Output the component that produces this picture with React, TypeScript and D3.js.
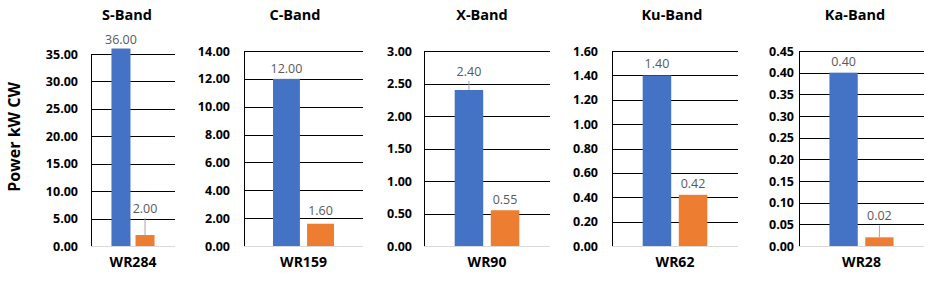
import React from "react";
import * as d3 from "d3";

// one panel per band
const bands = ["S-Band", "C-Band", "X-Band", "Ku-Band", "Ka-Band"];
const waveguides = ["WR284", "WR159", "WR90", "WR62", "WR28"];
const blueValues = [36.0, 12.0, 2.4, 1.4, 0.4];
const orangeValues = [2.0, 1.6, 0.55, 0.42, 0.02];
const axisMax = [35, 14, 3, 1.6, 0.45];
const tickStep = [5, 2, 0.5, 0.2, 0.05];

const W = 940,
  H = 288;
const FONT = "'Open Sans', Lato, sans-serif";

// layout of the five panels (pixel positions)
const plotLeft = [91, 244, 424, 612, 799];
const plotRight = [175, 363, 550, 738, 924];
const plotTop = [54, 51, 51, 51, 51];
const plotBottom = 246;
const tickLabelRight = [78, 230, 412, 598, 794];
const titleX = [127, 295, 482, 672, 855];
// how far data labels sit above their bar: [blue, orange]
const labelLift = [
  [5, 22],
  [6, 9],
  [14, 6],
  [7, 7],
  [7, 17],
];

const colors = ["#4472c4", "#ed7d31"];
const fmt = d3.format(".2f");

function Panel({ i }: { i: number }) {
  const y = d3
    .scaleLinear()
    .domain([0, axisMax[i]])
    .range([plotBottom, plotTop[i]]);
  const x = d3
    .scaleBand()
    .domain(["a", "b"])
    .range([plotLeft[i], plotRight[i]])
    .paddingInner(0.21)
    .paddingOuter(0.85);
  const ticks = d3.range(0, axisMax[i] + tickStep[i] / 2, tickStep[i]);
  const vals = [blueValues[i], orangeValues[i]];
  const cx = (plotLeft[i] + plotRight[i]) / 2;

  return (
    <g>
      <text
        x={titleX[i]}
        y={20}
        textAnchor="middle"
        fontSize={14.5}
        fontWeight="bold"
        fill="#000"
      >
        {bands[i]}
      </text>
      {ticks.map((t) => (
        <g key={t}>
          {t > 0 && (
            <line
              x1={plotLeft[i]}
              x2={plotRight[i]}
              y1={Math.round(y(t)) + 0.5}
              y2={Math.round(y(t)) + 0.5}
              stroke="#000"
              strokeWidth={1}
            />
          )}
          <text
            x={tickLabelRight[i]}
            y={y(t) + 4.5}
            textAnchor="end"
            fontSize={12.5}
            fontWeight="bold"
            fill="#000"
          >
            {fmt(t)}
          </text>
        </g>
      ))}
      <line
        x1={plotLeft[i]}
        x2={plotRight[i]}
        y1={plotBottom + 0.5}
        y2={plotBottom + 0.5}
        stroke="#d9d9d9"
      />
      <line
        x1={plotLeft[i] + 0.5}
        x2={plotLeft[i] + 0.5}
        y1={plotTop[i]}
        y2={plotBottom}
        stroke="#000"
      />
      {vals.map((v, j) => {
        const key = j === 0 ? "a" : "b";
        const bx = x(key) as number;
        const bw = x.bandwidth();
        const top = y(v);
        const lift = labelLift[i][j];
        return (
          <g key={key}>
            <rect
              x={bx}
              y={top}
              width={bw}
              height={plotBottom - top}
              fill={colors[j]}
            />
            {lift > 12 && (
              <line
                x1={bx + bw / 2}
                x2={bx + bw / 2}
                y1={top - lift + 5}
                y2={top}
                stroke="#a6a6a6"
              />
            )}
            <text
              x={bx + bw / 2}
              y={top - lift}
              textAnchor="middle"
              fontSize={12.5}
              fill="#595959"
            >
              {fmt(v)}
            </text>
          </g>
        );
      })}
      <text
        x={cx}
        y={267}
        textAnchor="middle"
        fontSize={14}
        fontWeight="bold"
        fill="#000"
      >
        {waveguides[i]}
      </text>
    </g>
  );
}

export default function App() {
  return (
    <svg
      width={W}
      height={H}
      style={{ position: "absolute", left: 0, top: 0, background: "#fff" }}
      fontFamily={FONT}
    >
      <rect width={W} height={H} fill="#fff" />
      <text
        transform="translate(20,137) rotate(-90)"
        textAnchor="middle"
        fontSize={16}
        fontWeight="bold"
        fill="#000"
      >
        Power kW CW
      </text>
      {bands.map((b, i) => (
        <Panel key={b} i={i} />
      ))}
    </svg>
  );
}
